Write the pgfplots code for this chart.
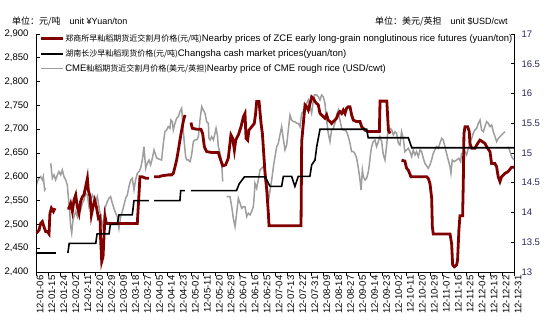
\documentclass[border=0pt]{standalone}
\usepackage{fontspec}
\setmainfont{Liberation Sans}
\newfontfamily\cjk{Noto Sans CJK SC}
\usepackage{pgfplots}
\pgfplotsset{compat=1.18}
\definecolor{zce}{RGB}{128,0,0}
\definecolor{cme}{RGB}{158,158,158}
\definecolor{rlab}{RGB}{40,40,90}
\begin{document}
\begin{tikzpicture}
\useasboundingbox (-36pt,-52pt) rectangle (509pt,272pt);
\pgfplotsset{common/.style={scale only axis, width=478pt, height=238pt,
  xmin=0, xmax=360, unbounded coords=jump, tick align=inside,
  major tick length=3.5pt, tick style={black, line width=0.6pt},
  axis line style={black, line width=0.8pt},
  /pgf/number format/assume math mode=true}}
% ---------- right axis: CME (USD/cwt)
\begin{axis}[common, axis y line*=right, axis x line=none,
  ymin=13, ymax=17, ytick distance=0.5,
  yticklabel style={font=\fontsize{9.5}{10}\selectfont, color=rlab, anchor=west, xshift=4pt}]
\addplot[cme, line width=1.5pt] coordinates {
(0,14.435) (1,14.519) (2.3,14.575) (3.5,14.603) (4.8,14.547) (5.5,14.603) (6.5,14.379) (7.3,14.407)
(9,nan)
(11.1,14.827) (12.3,14.575) (13.6,14.631) (14.8,14.547) (16.1,14.631) (17.3,14.687) (18.6,14.631) (19.8,14.715) (21.1,14.603) (22.3,14.547) (23.6,14.463) (24.3,14.267) (25.3,14.043) (26.1,13.763) (26.9,13.651) (27.9,13.875) (28.6,13.931) (29.9,14.015) (31.1,13.931) (32.4,14.099) (33.6,14.043) (34.9,14.155) (36.1,14.211) (37.4,14.323) (38.7,14.295) (39.9,14.099) (41.2,14.183) (42.4,14.295) (43.7,14.239) (44.9,14.183) (46.2,14.267) (47.4,14.099) (48.7,13.931) (49.9,13.763) (51.2,13.903) (52.4,14.099) (53.7,14.183) (55,14.239) (56.2,14.267) (57.5,14.155) (58.7,14.071) (60,13.987) (61.2,13.931) (62.5,13.735) (63.8,13.931) (65,14.015) (66.3,14.127) (67.5,14.239) (68.8,14.295) (70,14.435) (71.3,14.547) (72.5,14.575) (73.8,14.379) (75,14.547) (76.3,14.659) (77.6,14.687) (78.8,14.743) (80.1,14.883) (81.3,15.107) (82.6,14.743) (83.8,14.827) (85.1,14.883) (86.3,14.799) (87.6,14.911) (88.9,15.051) (90.1,14.967)
(91,14.911) (94.6,14.883) (95.9,15.163) (97.1,15.359) (98.4,15.387) (99.6,15.443) (100.9,15.415) (101.6,15.555) (102.7,15.527) (103.4,15.387) (104.7,15.499) (105.9,15.583) (107.2,15.611) (108.4,15.695) (109.7,15.751) (110.9,15.387) (111.7,15.163) (112.7,14.939) (113.5,14.883) (114.7,14.883) (116,14.855) (117.2,14.967) (118.5,15.191) (119.7,15.219) (121,15.219) (122.3,15.275) (123.5,15.555) (124.8,15.779) (126,15.723) (127.3,15.667) (128.5,15.527) (129.8,15.499) (130.3,15.247) (131.1,15.219) (132.3,15.275) (133.6,15.219) (134.8,15.331) (135.6,15.415) (136.6,15.303) (137.3,15.107) (138.6,14.995) (139.8,14.855) (140.6,14.519)
(142,nan)
(143.6,14.267) (146.1,14.267) (147.4,14.099) (148.6,13.903) (149.9,13.763) (151.1,13.987) (152.4,14.239) (153.7,14.155) (154.9,14.071) (156.2,14.099) (157.4,14.099) (158.7,13.931) (159.9,13.987) (161.2,13.959) (162.4,14.015) (163.7,14.099) (164.4,14.295) (164.9,14.491) (166.2,14.407) (167.4,14.547) (168.7,14.715) (170,14.743) (171.2,14.771) (172.5,14.715) (173.2,14.603) (174.3,14.379) (175,14.183) (176.3,14.379) (177.5,14.547) (178.8,14.771) (180,14.939) (181.3,15.107) (182.5,15.163)
(183.7,15.303) (185,15.443) (186.2,15.247) (187.5,15.051) (188.8,15.135) (190,15.387) (191.3,15.639) (192.5,15.555) (193.8,15.527) (195,15.527) (196.3,15.499) (197.5,15.499) (198.8,15.443) (200.1,15.667) (201.3,15.695) (202.6,15.751) (203.9,15.835) (205.1,15.891) (206.4,15.779) (207.6,15.667) (208.9,15.891) (209.6,15.975) (211.4,15.975) (212.6,15.947) (213.9,15.891) (215.1,15.975) (216.4,15.947) (217.6,15.835) (218.9,15.555) (220.1,15.331) (221.4,15.191) (222.6,15.387) (223.9,15.415) (225.1,15.499) (226.4,15.639) (227.7,15.723) (228.9,15.555) (230.2,15.415) (231.4,15.387) (232.7,15.387) (233.9,15.359) (235.2,15.275) (236.5,15.163) (237.7,15.023) (239,15.023) (240.2,14.995) (241.5,14.911) (242.8,14.743) (244,14.547) (244.8,14.379) (245.8,14.715) (246.5,14.603) (247.8,14.547) (249,14.575) (250.3,14.687) (251,14.799) (252,14.995) (252.8,15.107) (254,15.191) (255.3,15.219) (256.5,15.107) (257.8,15.191) (259,15.275) (260.3,15.191) (261.6,14.967) (262.8,14.883) (264.1,15.135) (265.3,15.443) (266.6,15.415) (267.9,15.387) (269.1,15.303) (270.4,15.359) (271.6,15.331) (272.9,15.163) (274.1,15.135)
(275.3,15.359) (276.6,15.247) (277.8,15.023) (279.1,15.051) (280.4,15.079) (281.6,15.023) (282.9,14.939) (284.1,15.051) (285.4,14.967) (286.6,15.023) (287.9,14.939) (289.2,15.051) (290.4,15.023) (291.7,14.911) (292.9,14.827) (294.2,14.782) (295.4,14.743) (296.7,14.799) (297.9,14.883) (299.2,14.995) (300.4,15.051) (301.7,15.107) (303,15.079) (304.2,15.163) (305.5,15.247) (306.7,15.219) (308,15.107) (309.2,14.995) (310.5,14.883) (311.8,14.771) (312.5,14.659) (313.5,14.883) (315,14.855) (316.8,14.883) (318.5,14.911) (319.8,14.855) (320.5,14.995) (321.8,14.995) (323.1,15.023) (324.3,14.967) (325.6,15.079) (326.8,15.163) (328.1,15.247) (329.3,15.331) (330.6,15.387) (331.9,15.415) (333.1,15.499) (334.4,15.555) (335.6,15.387) (336.9,15.359) (338.1,15.443) (339.4,15.527) (340.7,15.499) (341.9,15.443) (343.2,15.471) (344.4,15.359) (345.7,15.275) (346.9,15.191) (348.2,15.247) (349.4,15.275) (350.7,15.303) (353.2,15.359)
(354.5,nan)
(355.7,15.107) (357,15.023) (358.2,14.939) (360,14.883)
};
\end{axis}
% ---------- left axis: ZCE and Changsha (yuan/ton)
\begin{axis}[common, axis y line*=left, axis x line*=bottom,
  ymin=2400, ymax=2900, ytick distance=50,
  /pgf/number format/.cd, 1000 sep={,}, /pgfplots/.cd,
  yticklabel style={font=\fontsize{9.5}{10}\selectfont, anchor=east, xshift=-4pt},
  xtick={0,9,...,360},
  x tick style={yshift=-3.5pt},
  xticklabels={12-01-06,12-01-15,12-01-24,12-02-02,12-02-11,12-02-20,12-02-29,12-03-09,12-03-18,12-03-27,12-04-05,12-04-14,12-04-23,12-05-02,12-05-11,12-05-20,12-05-29,12-06-07,12-06-16,12-06-25,12-07-04,12-07-13,12-07-22,12-07-31,12-08-09,12-08-18,12-08-27,12-09-05,12-09-14,12-09-23,12-10-02,12-10-11,12-10-20,12-10-29,12-11-07,12-11-16,12-11-25,12-12-04,12-12-13,12-12-22,12-12-31},
  xticklabel style={font=\fontsize{9.5}{10}\selectfont, rotate=90, anchor=east, yshift=-4pt},
  legend style={at={(axis description cs:0.008,1)}, anchor=north west, draw=none, fill=none,
    inner sep=0pt, row sep=5.5pt, font=\fontsize{9.5}{11}\selectfont,
    nodes={inner sep=0.5pt}},
  legend cell align=left,
  legend image code/.code={\draw[#1] (0pt,0pt) -- (22pt,0pt);}]
\addplot[zce, line width=2.8pt] coordinates {
(0,2481) (1,2484) (2.3,2488) (3.5,2502) (4.8,2506) (6,2495) (7.3,2485) (8.5,2485) (9.8,2480) (10.5,2523) (11.6,2534) (13.1,2527) (14.3,2534)
(19,nan)
(23.6,2534) (24.9,2534) (26.1,2544) (27.4,2527) (28.6,2551) (29.9,2562) (31.1,2537) (32.4,2523) (33.6,2548) (34.9,2558) (36.1,2562) (37.4,2579) (38.7,2597) (39.4,2572) (40.7,2558) (41.7,2520) (43.2,2541) (44.2,2551) (45.7,2534) (47,2513) (48.2,2516) (48.7,2467) (49.5,2422) (50.5,2432) (51.2,2474) (52,2516) (53,2502) (53.7,2502) (76.3,2502) (78.3,2600) (80.1,2600) (82.6,2597) (85.1,2597)
(87,nan)
(88.9,2600) (92.6,2600) (94.6,2602) (99.6,2604) (102.2,2604) (103.4,2607) (104.7,2621) (105.9,2635) (107.2,2656) (108.4,2677) (109.7,2698) (110.9,2716) (112.2,2730)
(114,nan)
(116.7,2714) (117.7,2702) (121,2700) (124.2,2700) (125.5,2691) (126.8,2663) (128.5,2653) (132.3,2651) (137.3,2651) (139.1,2635) (140.6,2623) (142.8,2625) (144.8,2639) (146.8,2688) (148.1,2681) (149.4,2656) (150.4,2677) (152.4,2688) (154.4,2705) (156.2,2726) (157.4,2733) (158.2,2681) (159.4,2677) (160.4,2698) (162.4,2705) (164.4,2712) (165.4,2733) (166.2,2758) (168,2758) (169.5,2712) (170.5,2691) (171.5,2649) (172.5,2607) (173.8,2572) (175,2523) (175.5,2497) (180,2497) (199.6,2497) (200.1,2674) (202.6,2751) (203.9,2747) (205.1,2740) (206.4,2754) (207.6,2768) (208.9,2765) (210.1,2758) (211.4,2754) (212.6,2751) (213.9,2733) (215.1,2730) (216.4,2726) (217.6,2723) (218.9,2730) (220.1,2719) (221.4,2716) (222.6,2712) (223.9,2716) (225.1,2719) (226.4,2723) (227.7,2733) (228.9,2737) (230.2,2733) (231.4,2740) (232.7,2733) (233.9,2744) (235.2,2747) (236.5,2747) (237.7,2730) (239,2719) (241.5,2716) (244,2716) (245.3,2705) (247.8,2698) (250.3,2695) (254.1,2695) (258.6,2695) (259.1,2759) (264.2,2759) (265.4,2698) (266.7,2691)
(270,nan)
(275.3,2635) (277.8,2633) (279.1,2618) (280.4,2614) (282.4,2600) (294.2,2600) (295.4,2597) (296.7,2586) (298,2555) (298.5,2495) (299.2,2480) (311.8,2480) (313,2460) (313.8,2415) (315,2411) (316.8,2415) (317.5,2425) (318.5,2488) (319.3,2518) (321.3,2518) (321.8,2586) (322.3,2691) (323.1,2705) (325.1,2705) (326.3,2695) (326.8,2670) (328.1,2660) (330.6,2660) (332.6,2670) (334.3,2677) (336.1,2674) (338.1,2670) (340.1,2660) (341.9,2653) (343.1,2628) (345.6,2628) (346.9,2621) (348.1,2600) (349.4,2590) (350.6,2600) (353.1,2607) (355.6,2611) (358.1,2620) (360,2620)
};
\addlegendentry{{\cjk\fontsize{8}{10}\selectfont 郑商所早籼稻期货近交割月价格(元/吨)}Nearby prices of ZCE early long-grain nonglutinous rice futures (yuan/ton)}
\addplot[black, line width=1.6pt] coordinates {
(0,2440) (15,2440) (19,nan) (24,2440) (25,2460) (45,2460) (46,2480) (55,2480) (56,2500) (61.2,2500) (62.5,2520) (72.5,2520) (73.8,2550) (85,2550) (87,nan) (89,2550) (108.4,2550) (109,2571) (112.2,2571) (114,nan) (116.7,2571) (151,2571) (153,2585) (157,2600) (172.6,2600) (176.2,2580) (185,2580) (186.3,2601) (192.5,2601) (195,2580) (197.5,2601) (206.3,2601) (207.6,2625) (210.1,2635) (211.4,2663) (213.9,2700) (249,2700) (250.2,2682) (280.4,2682) (283,2661) (360,2661)
};
\addlegendentry{{\cjk\fontsize{8}{10}\selectfont 湖南长沙早籼稻现货价格(元/吨)}Changsha cash market prices(yuan/ton)}
\addlegendimage{cme, line width=1.5pt}
\addlegendentry{CME{\cjk\fontsize{8}{10}\selectfont 籼稻期货近交割月价格(美元/英担)}Nearby price of CME rough rice (USD/cwt)}
\end{axis}
\node[anchor=west, inner sep=0pt, font=\fontsize{9}{10}\selectfont] at (-24pt,251pt) {{\cjk 单位：元/吨}\quad unit ¥Yuan/ton};
\node[anchor=west, inner sep=0pt, font=\fontsize{9}{10}\selectfont] at (339pt,251pt) {{\cjk 单位：美元/英担}\quad unit \$USD/cwt};
\end{tikzpicture}
\end{document}
